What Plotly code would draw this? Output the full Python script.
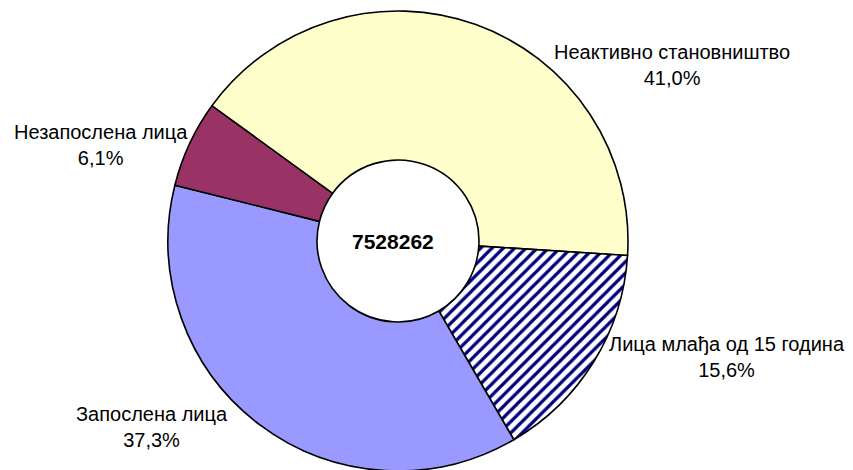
import plotly.graph_objects as go

# Population structure - donut chart
labels = ["Неактивно становништво", "Лица млађа од 15 година", "Запослена лица", "Незапослена лица"]
shares = [41.0, 15.6, 37.3, 6.1]
total_population = 7528262

colors = ["#FFFFCC", "#FFFFFF", "#9999FF", "#993366"]
hatch = ["", "/", "", ""]

W, H = 853, 470
OFF = 8  # page body margin in the browser

# label anchor points (page pixels from top-left)
label_pos = [(672, 65), (727, 357), (152, 427), (101, 145)]
cx, cy, r = 398, 241, 230

fig = go.Figure(go.Pie(
    labels=labels,
    values=shares,
    sort=False,
    direction="clockwise",
    rotation=-54,
    hole=0.352,
    textinfo="none",
    hoverinfo="label+percent",
    marker=dict(
        colors=colors,
        line=dict(color="black", width=1.6),
        pattern=dict(shape=hatch, fgcolor="#000080", bgcolor="#FFFFFF", size=8, solidity=0.4),
    ),
    domain=dict(
        x=[(cx - OFF - r) / W, (cx - OFF + r) / W],
        y=[(H - (cy - OFF) - r) / H, (H - (cy - OFF) + r) / H],
    ),
))

annotations = []
for name, val, (px_, py_) in zip(labels, shares, label_pos):
    annotations.append(dict(
        x=(px_ - OFF) / W, y=1 - (py_ - OFF) / H, xref="paper", yref="paper",
        text=f"{name}<br>{val:.1f}%".replace(".", ","),
        showarrow=False, xanchor="center", yanchor="middle",
        font=dict(family="Liberation Sans, Arial", size=20, color="black"),
    ))

annotations.append(dict(
    x=(393 - OFF) / W, y=1 - (242 - OFF) / H, xref="paper", yref="paper",
    text=f"<b>{total_population}</b>",
    showarrow=False, xanchor="center", yanchor="middle",
    font=dict(family="Liberation Sans, Arial", size=21, color="black"),
))

fig.update_layout(
    width=W, height=H,
    margin=dict(l=0, r=0, t=0, b=0),
    showlegend=False,
    paper_bgcolor="white",
    annotations=annotations,
)

fig.write_html("out.html")
